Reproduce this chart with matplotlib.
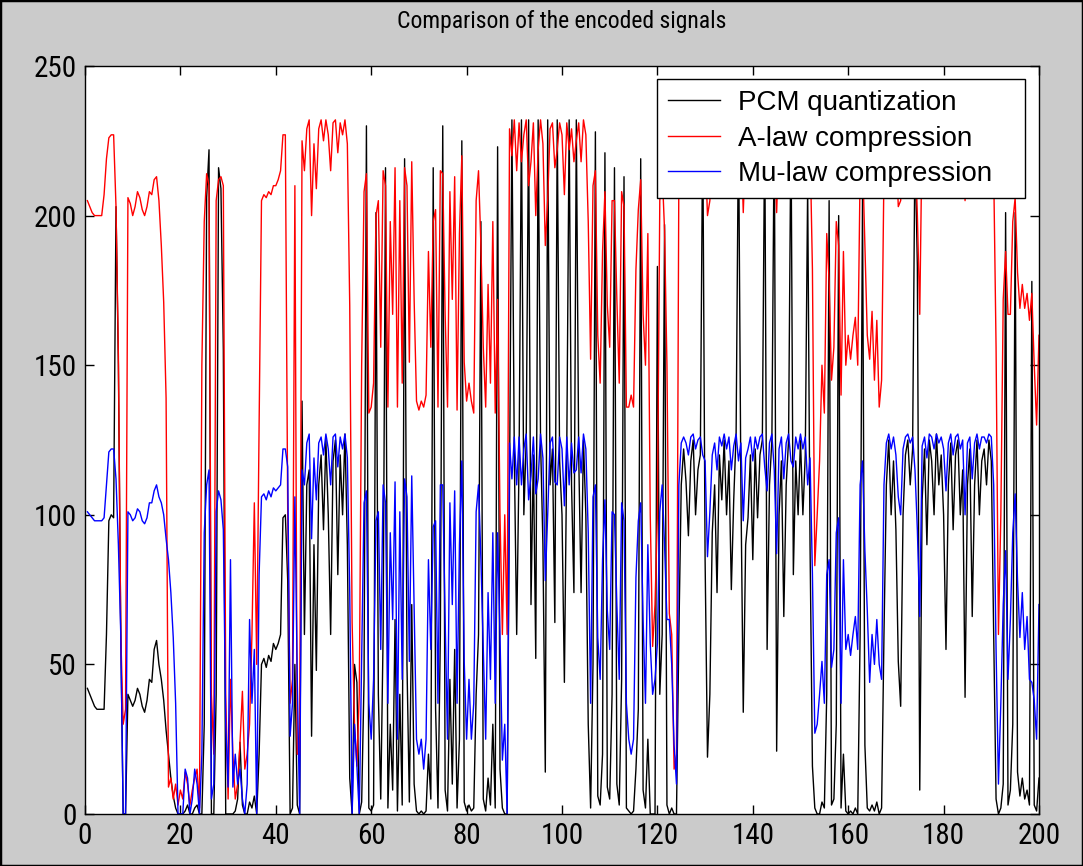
import matplotlib
matplotlib.use("Agg")
import matplotlib.pyplot as plt
from matplotlib.patches import Rectangle

# ---------------- data (one value every 0.5 on x, 0.5..200) ----------------
pcm_quant = [
    42, 40, 38, 36, 35, 35, 35, 35, 60, 98, 100, 99, 203, 150, 60, 0, 0, 40, 38, 36,
    38, 42, 40, 36, 34, 38, 45, 44, 55, 58, 50, 45, 38, 28, 20, 12, 6, 2, 0, 0,
    0, 1, 3, 0, 0, 2, 3, 0, 0, 30, 206, 222, 0, 0, 40, 216, 209, 155, 0, 0,
    0, 0, 1, 5, 24, 3, 0, 0, 4, 2, 6, 0, 20, 50, 52, 49, 53, 51, 57, 55,
    57, 60, 99, 100, 78, 0, 2, 50, 3, 0, 138, 60, 110, 115, 26, 90, 48, 110, 120, 95,
    125, 100, 60, 118, 125, 80, 120, 100, 127, 90, 12, 0, 50, 44, 0, 4, 45, 230, 2, 1,
    3, 201, 40, 5, 60, 216, 2, 30, 8, 65, 1, 40, 3, 219, 50, 4, 70, 10, 1, 0,
    1, 0, 1, 20, 5, 216, 35, 2, 60, 230, 8, 1, 45, 10, 55, 2, 25, 225, 4, 1,
    3, 1, 2, 40, 60, 198, 5, 1, 12, 3, 30, 2, 223, 15, 2, 0, 0, 110, 232, 120,
    60, 118, 232, 100, 125, 232, 70, 120, 52, 232, 125, 90, 14, 232, 110, 122, 64, 232, 118, 100,
    44, 122, 232, 110, 74, 232, 120, 74, 125, 100, 30, 2, 50, 228, 6, 3, 20, 221, 9, 5,
    40, 216, 10, 3, 45, 213, 2, 1, 0, 1, 15, 35, 219, 8, 2, 25, 0, 0, 0, 183,
    40, 60, 197, 3, 0, 2, 0, 0, 60, 110, 122, 111, 93, 118, 125, 100, 115, 120, 232, 85,
    19, 40, 94, 110, 74, 120, 105, 125, 100, 118, 75, 105, 127, 232, 110, 34, 90, 99, 120, 85,
    122, 99, 120, 125, 232, 55, 110, 125, 232, 21, 100, 118, 66, 110, 125, 232, 80, 118, 100, 125,
    100, 120, 210, 90, 16, 2, 0, 0, 4, 2, 40, 205, 3, 5, 30, 200, 2, 20, 1, 0,
    1, 0, 2, 0, 60, 206, 23, 2, 1, 3, 1, 4, 0, 2, 60, 110, 125, 100, 118, 95,
    51, 36, 100, 120, 125, 110, 122, 225, 183, 8, 105, 122, 90, 125, 118, 100, 127, 110, 120, 100,
    55, 110, 124, 95, 120, 125, 100, 115, 39, 110, 122, 66, 110, 125, 100, 118, 122, 110, 125, 118,
    60, 5, 0, 2, 10, 201, 3, 8, 30, 201, 14, 6, 12, 5, 8, 3, 178, 3, 1, 12,
]

a_law = [
    205, 203, 201, 200, 200, 200, 200, 207, 219, 226, 227, 227, 203, 153, 60, 30, 35, 206, 204, 200,
    203, 208, 206, 202, 200, 203, 208, 207, 212, 213, 205, 190, 171, 139, 9, 12, 5, 10, 3, 8,
    5, 14, 10, 3, 8, 12, 15, 2, 150, 198, 214, 210, 40, 20, 205, 212, 213, 210, 40, 5,
    45, 20, 5, 10, 24, 41, 15, 20, 30, 60, 104, 50, 130, 205, 207, 206, 208, 207, 210, 210,
    212, 215, 227, 227, 100, 37, 45, 210, 20, 20, 225, 215, 229, 232, 200, 224, 209, 229, 232, 225,
    232, 227, 215, 231, 232, 221, 231, 227, 232, 224, 170, 64, 30, 16, 40, 150, 208, 214, 134, 136,
    144, 200, 205, 156, 215, 210, 136, 198, 167, 216, 136, 205, 144, 216, 210, 151, 218, 172, 138, 135,
    138, 136, 140, 188, 156, 198, 202, 136, 215, 214, 167, 136, 208, 172, 213, 135, 194, 220, 151, 138,
    144, 138, 134, 205, 215, 190, 156, 136, 177, 144, 198, 134, 172, 100, 60, 100, 60, 229, 220, 232,
    215, 231, 218, 227, 232, 210, 218, 231, 200, 222, 232, 224, 190, 205, 229, 231, 216, 222, 231, 227,
    207, 231, 222, 229, 218, 225, 231, 218, 232, 227, 198, 152, 210, 215, 160, 144, 188, 208, 170, 156,
    205, 205, 172, 144, 208, 203, 136, 136, 140, 136, 182, 202, 212, 167, 150, 194, 100, 56, 70, 100,
    205, 215, 195, 150, 67, 60, 15, 20, 215, 229, 231, 229, 226, 231, 232, 227, 230, 231, 228, 223,
    200, 205, 226, 229, 220, 231, 229, 232, 227, 231, 220, 229, 232, 225, 229, 201, 224, 227, 231, 223,
    231, 227, 231, 232, 225, 213, 229, 232, 224, 201, 227, 231, 217, 229, 232, 226, 221, 231, 227, 232,
    227, 231, 215, 224, 182, 83, 100, 118, 150, 134, 194, 178, 145, 156, 198, 190, 140, 188, 150, 160,
    152, 160, 166, 150, 215, 220, 190, 160, 152, 168, 145, 165, 136, 145, 215, 229, 232, 227, 231, 225,
    203, 205, 227, 231, 232, 229, 231, 226, 200, 167, 229, 231, 224, 232, 231, 227, 232, 229, 231, 227,
    213, 229, 232, 226, 231, 232, 227, 230, 205, 229, 231, 217, 229, 232, 227, 231, 231, 229, 232, 231,
    215, 156, 60, 100, 172, 188, 167, 167, 198, 206, 181, 169, 177, 169, 174, 165, 174, 150, 130, 160,
]

mu_law = [
    101, 100, 99, 98, 98, 98, 98, 99, 110, 121, 122, 122, 112, 90, 60, 0, 0, 101, 100, 98,
    99, 102, 101, 98, 97, 99, 104, 104, 108, 110, 106, 104, 100, 92, 85, 74, 59, 37, 0, 0,
    0, 15, 12, 0, 5, 15, 10, 0, 20, 94, 110, 115, 5, 10, 101, 108, 105, 95, 30, 9,
    85, 9, 20, 10, 15, 5, 0, 10, 65, 37, 55, 0, 80, 106, 107, 105, 108, 106, 109, 108,
    109, 110, 122, 122, 116, 26, 37, 106, 45, 0, 115, 110, 124, 127, 92, 119, 105, 124, 126, 120,
    127, 122, 110, 126, 127, 116, 126, 122, 127, 119, 74, 0, 30, 16, 0, 51, 104, 108, 37, 25,
    45, 98, 101, 55, 110, 104, 37, 94, 65, 111, 25, 101, 45, 112, 106, 51, 113, 70, 25, 20,
    25, 15, 25, 85, 55, 96, 98, 37, 110, 110, 65, 25, 104, 70, 108, 37, 90, 118, 51, 25,
    45, 25, 37, 101, 110, 85, 55, 25, 74, 45, 94, 37, 94, 60, 18, 30, 0, 124, 112, 126,
    110, 126, 110, 122, 127, 105, 113, 126, 107, 112, 127, 119, 78, 100, 124, 126, 111, 110, 126, 122,
    103, 126, 110, 124, 114, 115, 126, 114, 127, 122, 94, 37, 106, 110, 59, 45, 85, 105, 68, 55,
    101, 100, 70, 45, 104, 98, 37, 25, 20, 25, 79, 98, 104, 65, 37, 90, 57, 40, 45, 57,
    101, 110, 90, 65, 65, 50, 23, 10, 110, 124, 126, 124, 120, 126, 127, 122, 125, 126, 120, 118,
    86, 101, 120, 124, 115, 126, 123, 127, 122, 126, 115, 123, 127, 118, 124, 98, 119, 122, 126, 118,
    126, 122, 126, 127, 116, 108, 124, 127, 115, 87, 122, 126, 112, 124, 127, 118, 116, 126, 122, 127,
    122, 126, 110, 119, 80, 27, 30, 40, 51, 37, 80, 85, 49, 55, 94, 99, 37, 85, 55, 60,
    53, 60, 66, 55, 110, 118, 88, 68, 44, 60, 50, 65, 50, 45, 110, 124, 127, 122, 126, 120,
    106, 100, 122, 126, 127, 124, 126, 115, 95, 66, 123, 126, 119, 127, 126, 122, 127, 124, 126, 122,
    108, 124, 127, 120, 126, 127, 122, 125, 100, 124, 126, 112, 124, 127, 122, 126, 126, 124, 127, 126,
    110, 55, 10, 37, 70, 88, 45, 65, 94, 107, 78, 59, 74, 55, 66, 45, 44, 38, 25, 70,
]

series_labels = ["PCM quantization", "A-law compression", "Mu-law compression"]
series_colors = ["#000000", "#ff0000", "#0000ff"]
x_ticks = [0, 20, 40, 60, 80, 100, 120, 140, 160, 180, 200]
y_ticks = [0, 50, 100, 150, 200, 250]
title_text = "Comparison of the encoded signals"

# ---------------- figure ----------------
W, H = 1083, 866
fig = plt.figure(figsize=(W / 100, H / 100), dpi=100, facecolor="#cbcbcb")
ax_l, ax_r, ax_t, ax_b = 85, 1039, 66, 814
ax = fig.add_axes([ax_l / W, 1 - ax_b / H, (ax_r - ax_l) / W, (ax_b - ax_t) / H])
ax.set_facecolor("white")

fam = ["Liberation Sans", "DejaVu Sans"]
narrow = ["Roboto Condensed", "Liberation Sans", "DejaVu Sans"]

for data, lab, col in zip([pcm_quant, a_law, mu_law], series_labels, series_colors):
    xs = [0.5 * (k + 1) for k in range(len(data))]
    ax.plot(xs, data, color=col, lw=1.0, label=lab)

ax.set_xlim(0, 200)
ax.set_ylim(0, 250)
ax.set_xticks(x_ticks)
ax.set_yticks(y_ticks)
ax.tick_params(direction="in", length=6.5, width=1, top=True, right=True,
               labelsize=21, colors="black")
ax.tick_params(axis="x", pad=6)
ax.tick_params(axis="y", pad=6)
for lbl in ax.get_xticklabels() + ax.get_yticklabels():
    lbl.set_family(narrow)
for sp in ax.spines.values():
    sp.set_linewidth(1.0)
    sp.set_color("black")

ax.set_title(title_text, family=narrow, fontsize=17, pad=27)

# legend box: 657..1025 px wide, top at 79 px
lx0 = (657 - ax_l) / (ax_r - ax_l)
lx1 = (1025 - ax_l) / (ax_r - ax_l)
ly1 = (ax_b - 79) / (ax_b - ax_t)
leg = ax.legend(loc="upper left", bbox_to_anchor=(lx0, ly1, lx1 - lx0, 0), mode="expand",
                frameon=True, fancybox=False, framealpha=1, edgecolor="black",
                borderpad=0.4, labelspacing=0.34, handlelength=1.85, handletextpad=0.65,
                borderaxespad=0.0, prop={"family": fam, "size": 20})
leg.get_frame().set_linewidth(1.0)

fig.patches.append(Rectangle((0, 0), 1, 1, transform=fig.transFigure, fill=False,
                             edgecolor="black", lw=2.5))

fig.savefig("out.png", dpi=100, facecolor=fig.get_facecolor())
